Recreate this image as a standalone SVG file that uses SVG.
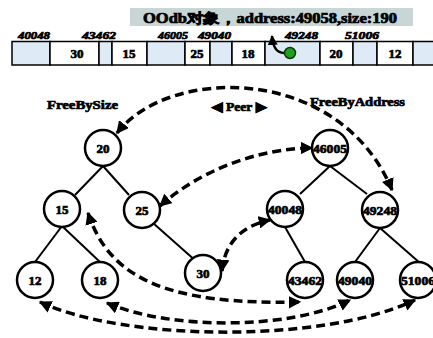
<svg xmlns="http://www.w3.org/2000/svg" width="433" height="338" viewBox="0 0 433 338">
<style>
text{font-family:"Liberation Serif","Times New Roman",serif;font-weight:bold;fill:#000;stroke:#000;stroke-width:0.7}
.cell{stroke:#000;stroke-width:1.5}
.free{fill:#dfeaf7}
.used{fill:#fff}
.cv{font-size:13px;text-anchor:middle}
.addr{font-size:10px;font-style:italic}
.node circle{fill:#fff;stroke:#000;stroke-width:2.5}
.node text{font-size:13px;text-anchor:middle}
.edge{stroke:#000;stroke-width:2;fill:none}
.peer{stroke:#000;stroke-width:3.5;fill:none;stroke-dasharray:9 5;marker-start:url(#ah);marker-end:url(#ah)}
.title{font-size:13px}
</style>
<defs>
<marker id="ah" viewBox="0 0 10 10" refX="9" refY="5" markerWidth="3.6" markerHeight="3.6" orient="auto-start-reverse" markerUnits="strokeWidth">
<path d="M0,0 L10,5 L0,10 z" fill="#000"/>
</marker>
<marker id="up" viewBox="0 0 10 10" refX="9" refY="5" markerWidth="4" markerHeight="4" orient="auto" markerUnits="strokeWidth">
<path d="M0,0 L10,5 L0,10 z" fill="#000"/>
</marker>
</defs>
<rect width="433" height="338" fill="#fff"/>

<g id="object-label">
<rect x="130" y="8" width="283" height="18" fill="#c8d6d6"/>
<text x="270" y="22.5" font-size="14" text-anchor="middle" textLength="254" lengthAdjust="spacingAndGlyphs">OOdb对象，address:49058,size:190</text>
</g>

<g id="memory">
<rect class="cell free" x="12" y="41.5" width="38" height="23.5"/>
<rect class="cell used" x="50" y="41.5" width="49" height="23.5"/>
<rect class="cell free" x="99" y="41.5" width="13" height="23.5"/>
<rect class="cell used" x="112" y="41.5" width="35" height="23.5"/>
<rect class="cell free" x="147" y="41.5" width="38" height="23.5"/>
<rect class="cell used" x="185" y="41.5" width="25" height="23.5"/>
<rect class="cell free" x="210" y="41.5" width="22" height="23.5"/>
<rect class="cell used" x="232" y="41.5" width="33" height="23.5"/>
<rect class="cell free" x="265" y="41.5" width="55" height="23.5"/>
<rect class="cell used" x="320" y="41.5" width="33" height="23.5"/>
<rect class="cell free" x="353" y="41.5" width="24" height="23.5"/>
<rect class="cell used" x="377" y="41.5" width="36" height="23.5"/>
<rect class="cell free" x="413" y="41.5" width="30" height="23.5"/>
<text class="cv" x="77" y="58">30</text>
<text class="cv" x="129" y="58">15</text>
<text class="cv" x="197" y="58">25</text>
<text class="cv" x="248" y="58">18</text>
<text class="cv" x="336" y="58">20</text>
<text class="cv" x="395" y="58">12</text>
<text class="addr" x="18" y="39" textLength="32" lengthAdjust="spacingAndGlyphs">40048</text>
<text class="addr" x="82" y="39" textLength="34" lengthAdjust="spacingAndGlyphs">43462</text>
<text class="addr" x="158" y="39" textLength="30" lengthAdjust="spacingAndGlyphs">46005</text>
<text class="addr" x="198" y="39" textLength="33" lengthAdjust="spacingAndGlyphs">49040</text>
<text class="addr" x="285" y="39" textLength="33" lengthAdjust="spacingAndGlyphs">49248</text>
<text class="addr" x="345" y="39" textLength="34" lengthAdjust="spacingAndGlyphs">51006</text>
<path d="M284,53 C278,53 273,48 272,36" stroke="#000" stroke-width="2.5" fill="none" marker-end="url(#up)"/>
<circle cx="290" cy="53" r="5.5" fill="#1f9e1f" stroke="#0b3b0b" stroke-width="1.5"/>
</g>

<g id="labels">
<text class="title" x="47" y="109" textLength="71" lengthAdjust="spacingAndGlyphs">FreeBySize</text>
<text class="title" x="310" y="106" textLength="95" lengthAdjust="spacingAndGlyphs">FreeByAddress</text>
<text class="title" x="212" y="111" textLength="54" lengthAdjust="spacingAndGlyphs">◀ Peer ▶</text>
</g>

<g id="connectors">
<line class="edge" x1="103" y1="166" x2="75" y2="195"/>
<line class="edge" x1="103" y1="166" x2="129" y2="195"/>
<line class="edge" x1="62" y1="226" x2="35" y2="262"/>
<line class="edge" x1="62" y1="226" x2="100" y2="262"/>
<line class="edge" x1="153" y1="223" x2="197" y2="262"/>
<line class="edge" x1="330" y1="166" x2="300" y2="194"/>
<line class="edge" x1="330" y1="166" x2="367" y2="194"/>
<line class="edge" x1="285" y1="227" x2="305" y2="262"/>
<line class="edge" x1="380" y1="228" x2="355" y2="262"/>
<line class="edge" x1="380" y1="228" x2="420" y2="263"/>
<path class="peer" d="M117,133 C170,65 340,65 392,190"/>
<path class="peer" d="M160,206 C200,170 260,148 312,148"/>
<path class="peer" d="M222,271 C225,240 245,225 270,220"/>
<path class="peer" d="M88,213 C110,280 170,305 300,302"/>
<path class="peer" d="M107,303 C170,330 290,330 350,300"/>
<path class="peer" d="M40,302 C120,340 320,345 415,300"/>
</g>

<g id="n20" class="node"><circle cx="103" cy="148" r="18"/><text x="103" y="152.5">20</text></g>
<g id="n15" class="node"><circle cx="62" cy="209" r="18"/><text x="62" y="213.5">15</text></g>
<g id="n25" class="node"><circle cx="142" cy="210" r="18"/><text x="142" y="214.5">25</text></g>
<g id="n12" class="node"><circle cx="35" cy="280" r="18"/><text x="35" y="284.5">12</text></g>
<g id="n18" class="node"><circle cx="100" cy="280" r="18"/><text x="100" y="284.5">18</text></g>
<g id="n30" class="node"><circle cx="203" cy="273" r="18"/><text x="203" y="277.5">30</text></g>
<g id="n46005" class="node"><circle cx="330" cy="148" r="18"/><text x="330" y="152.5" textLength="34" lengthAdjust="spacingAndGlyphs">46005</text></g>
<g id="n40048" class="node"><circle cx="285" cy="209" r="18"/><text x="285" y="213.5" textLength="34" lengthAdjust="spacingAndGlyphs">40048</text></g>
<g id="n49248" class="node"><circle cx="380" cy="210" r="18"/><text x="380" y="214.5" textLength="34" lengthAdjust="spacingAndGlyphs">49248</text></g>
<g id="n43462" class="node"><circle cx="305" cy="280" r="18"/><text x="305" y="284.5" textLength="34" lengthAdjust="spacingAndGlyphs">43462</text></g>
<g id="n49040" class="node"><circle cx="355" cy="280" r="18"/><text x="355" y="284.5" textLength="34" lengthAdjust="spacingAndGlyphs">49040</text></g>
<g id="n51006" class="node"><circle cx="418" cy="280" r="18"/><text x="418" y="284.5" textLength="34" lengthAdjust="spacingAndGlyphs">51006</text></g>
</svg>
